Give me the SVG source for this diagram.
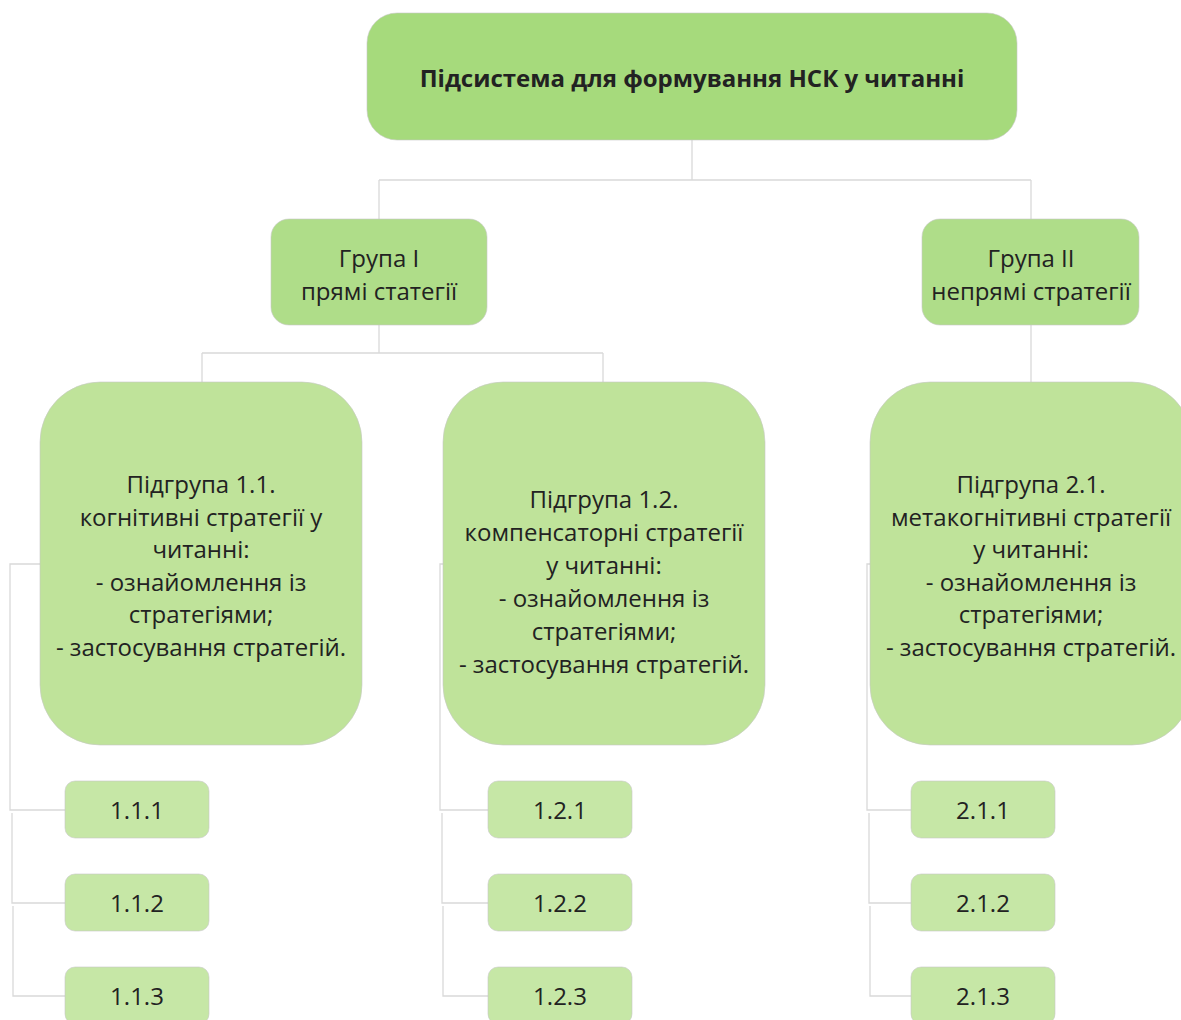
<svg xmlns="http://www.w3.org/2000/svg" width="1181" height="1020" viewBox="0 0 1181 1020">
<style>
.t{font-family:"Open Sans","Noto Sans",sans-serif;fill:#222;text-anchor:middle;dominant-baseline:central;font-size:24px}
.c{fill:none;stroke:#d9d9d9;stroke-width:1.3}
.top{fill:#a6da7c;stroke:#c8c8c8;stroke-width:0.6}
.grp{fill:#afdd89;stroke:#c8c8c8;stroke-width:0.6}
.sub{fill:#bfe39a;stroke:#c8c8c8;stroke-width:0.6}
.leaf{fill:#c6e7a6;stroke:#c8c8c8;stroke-width:0.6}
</style>
<rect width="1181" height="1020" fill="#fff"/>
<g id="connectors">
<path class="c" d="M692 140V180M379 180H1031M379 180V219M1031 180V219"/>
<path class="c" d="M379 325V353M202 353H603M202 353V382M603 353V382M1031 325V382"/>
<path class="c" d="M40 564H10V810H65M12 813V903H65M13 906V996H65"/>
<path class="c" d="M443 564H440V810H488M442 813V903H488M443 906V996H488"/>
<path class="c" d="M870 564H867V810H911M869 813V903H911M870 906V996H911"/>
</g>
<g id="root"><rect class="top" x="367" y="13" width="650" height="127" rx="30"/>
<text class="t" x="692" y="77" font-weight="bold">Підсистема для формування НСК у читанні</text></g>
<g id="group1"><rect class="grp" x="271" y="219" width="216" height="106" rx="18"/>
<text class="t"><tspan x="379" y="257">Група I</tspan><tspan x="379" y="290">прямі статегії</tspan></text></g>
<g id="group2"><rect class="grp" x="922" y="219" width="217" height="106" rx="18"/>
<text class="t"><tspan x="1031" y="257">Група II</tspan><tspan x="1031" y="290">непрямі стратегії</tspan></text></g>
<g id="sub11"><rect class="sub" x="40" y="382" width="322" height="363" rx="60"/>
<text class="t"><tspan x="201" y="483">Підгрупа 1.1.</tspan><tspan x="201" y="516">когнітивні стратегії у</tspan><tspan x="201" y="548">читанні:</tspan><tspan x="201" y="581">- ознайомлення із</tspan><tspan x="201" y="613">стратегіями;</tspan><tspan x="201" y="646">- застосування стратегій.</tspan></text></g>
<g id="sub12"><rect class="sub" x="443" y="382" width="322" height="363" rx="60"/>
<text class="t"><tspan x="604" y="498">Підгрупа 1.2.</tspan><tspan x="604" y="531">компенсаторні стратегії</tspan><tspan x="604" y="564">у читанні:</tspan><tspan x="604" y="597">- ознайомлення із</tspan><tspan x="604" y="630">стратегіями;</tspan><tspan x="604" y="663">- застосування стратегій.</tspan></text></g>
<g id="sub21"><rect class="sub" x="870" y="382" width="322" height="363" rx="60"/>
<text class="t"><tspan x="1031" y="483">Підгрупа 2.1.</tspan><tspan x="1031" y="516">метакогнітивні стратегії</tspan><tspan x="1031" y="548">у читанні:</tspan><tspan x="1031" y="581">- ознайомлення із</tspan><tspan x="1031" y="613">стратегіями;</tspan><tspan x="1031" y="646">- застосування стратегій.</tspan></text></g>
<g id="l111"><rect class="leaf" x="65" y="781" width="144" height="57" rx="10"/><text class="t" x="137" y="809">1.1.1</text></g>
<g id="l112"><rect class="leaf" x="65" y="874" width="144" height="57" rx="10"/><text class="t" x="137" y="902">1.1.2</text></g>
<g id="l113"><rect class="leaf" x="65" y="967" width="144" height="57" rx="10"/><text class="t" x="137" y="995">1.1.3</text></g>
<g id="l121"><rect class="leaf" x="488" y="781" width="144" height="57" rx="10"/><text class="t" x="560" y="809">1.2.1</text></g>
<g id="l122"><rect class="leaf" x="488" y="874" width="144" height="57" rx="10"/><text class="t" x="560" y="902">1.2.2</text></g>
<g id="l123"><rect class="leaf" x="488" y="967" width="144" height="57" rx="10"/><text class="t" x="560" y="995">1.2.3</text></g>
<g id="l211"><rect class="leaf" x="911" y="781" width="144" height="57" rx="10"/><text class="t" x="983" y="809">2.1.1</text></g>
<g id="l212"><rect class="leaf" x="911" y="874" width="144" height="57" rx="10"/><text class="t" x="983" y="902">2.1.2</text></g>
<g id="l213"><rect class="leaf" x="911" y="967" width="144" height="57" rx="10"/><text class="t" x="983" y="995">2.1.3</text></g>
</svg>
